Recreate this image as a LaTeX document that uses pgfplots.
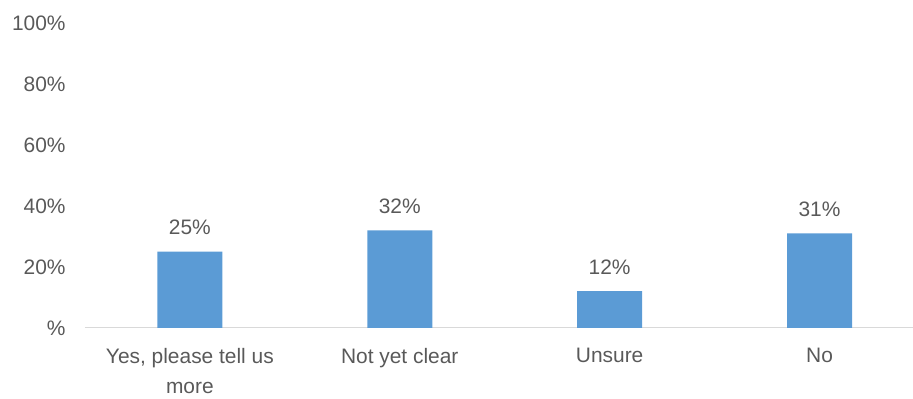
\documentclass[border=0pt]{standalone}
\usepackage{pgfplots}
\pgfplotsset{compat=1.18}
\usepackage{fontspec}
\setmainfont{Liberation Sans}
\definecolor{barblue}{HTML}{5B9BD5}
\definecolor{txtgray}{HTML}{595959}
\definecolor{axgray}{HTML}{D9D9D9}
\begin{document}
\begin{tikzpicture}
\begin{axis}[
  name=ax,
  scale only axis,
  width=621pt, height=228.75pt,
  xmin=-0.5, xmax=3.443,
  ymin=0, ymax=100,
  /pgf/number format/assume math mode=true,
  ytick={0,20,40,60,80,100},
  yticklabels={\%,20\%,40\%,60\%,80\%,100\%},
  xtick={0,1,2,3},
  xticklabels={{Yes, please tell us\\more},Not yet clear,Unsure,No},
  xticklabel style={align=center, font=\fontsize{15.7}{22.5}\selectfont, text=txtgray, yshift=-12pt},
  yticklabel style={font=\fontsize{15.7}{19.5}\selectfont, text=txtgray, xshift=-11pt},
  axis x line*=bottom,
  axis y line*=left,
  y axis line style={draw=none},
  x axis line style={axgray, line width=0.75pt, -},
  major tick length=0pt,
  ybar, bar width=48.75pt,
  nodes near coords={\pgfmathprintnumber{\pgfplotspointmeta}\%},
  nodes near coords style={font=\fontsize{15.7}{19.5}\selectfont, text=txtgray, yshift=9pt},
  clip=false,
]
\addplot[fill=barblue, draw=none] coordinates {(0,25) (1,32) (2,12) (3,31)};
\end{axis}
\path (ax.south west) ++(-63.75pt,-52.5pt) rectangle ++(684.75pt,298.5pt);
\end{tikzpicture}
\end{document}
